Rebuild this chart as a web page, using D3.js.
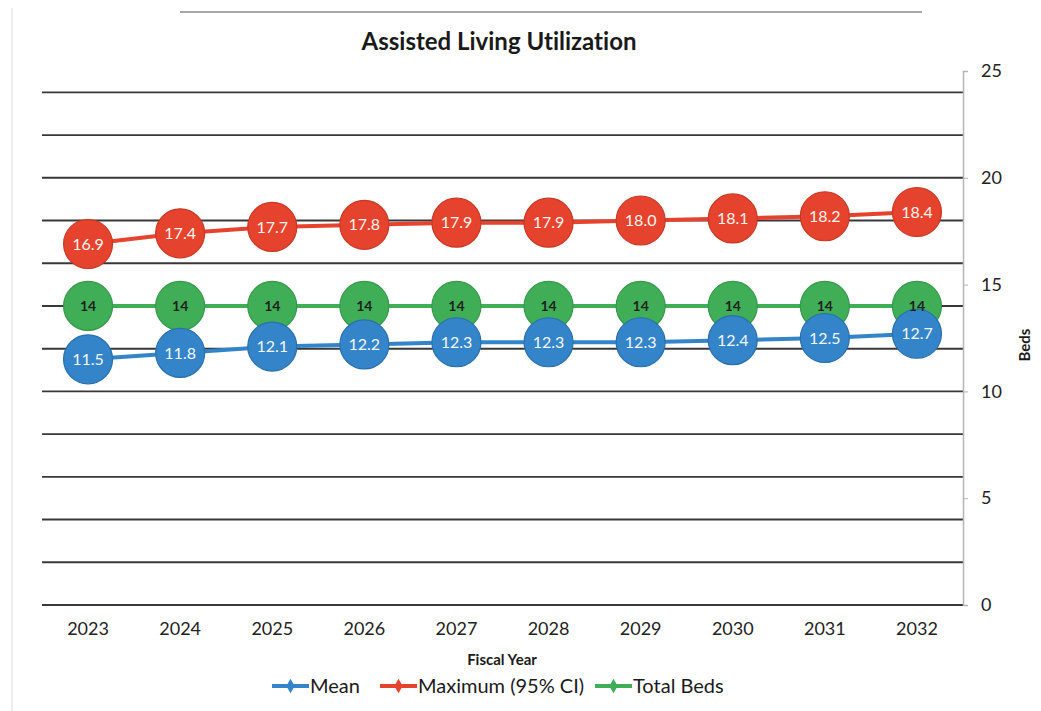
<!DOCTYPE html>
<html>
<head>
<meta charset="utf-8">
<script src="https://cdn.jsdelivr.net/npm/d3@7"></script>
<style>
  html, body { margin: 0; padding: 0; background: #fff; }
  svg { display: block; font-family: Lato, "Open Sans", sans-serif; font-variant-ligatures: none; }
</style>
</head>
<body>
<svg id="chart" width="1041" height="711"></svg>
<script>
// Fiscal years and the three bed series
const years = ["2023", "2024", "2025", "2026", "2027", "2028", "2029", "2030", "2031", "2032"];
const meanBeds = [11.5, 11.8, 12.1, 12.2, 12.3, 12.3, 12.3, 12.4, 12.5, 12.7];
const maxBeds = [16.9, 17.4, 17.7, 17.8, 17.9, 17.9, 18.0, 18.1, 18.2, 18.4];
const totalBeds = [14, 14, 14, 14, 14, 14, 14, 14, 14, 14];
const yTicks = [0, 5, 10, 15, 20, 25];
const gridValues = [0, 2, 4, 6, 8, 10, 12, 14, 16, 18, 20, 22, 24];

const series = [
  { name: "Total Beds", values: totalBeds, color: "#3fae57", edge: "#35984b", text: "#1f1f1f", fmt: d => d3.format("d")(d), bold: true },
  { name: "Mean", values: meanBeds, color: "#3384c8", edge: "#2a70ad", text: "#f4f8ff", fmt: d => d3.format(".1f")(d), bold: false },
  { name: "Maximum (95% CI)", values: maxBeds, color: "#e6432e", edge: "#c93823", text: "#fff4ee", fmt: d => d3.format(".1f")(d), bold: false }
];

const svg = d3.select("#chart");
const plotLeft = 42, plotRight = 963, plotTop = 71, plotBottom = 605;

const x = d3.scaleBand().domain(years).range([plotLeft, plotRight]).padding(0);
const y = d3.scaleLinear().domain([0, 25]).range([plotBottom, plotTop]);
const cx = d => x(d) + x.bandwidth() / 2;

// page frame
svg.append("line").attr("x1", 12).attr("x2", 12).attr("y1", 8).attr("y2", 711)
  .attr("stroke", "#e6e6e6").attr("stroke-width", 1.5);
svg.append("line").attr("x1", 180).attr("x2", 922).attr("y1", 12).attr("y2", 12)
  .attr("stroke", "#8a8a8a").attr("stroke-width", 1.5);

// title
svg.append("text").attr("x", 499).attr("y", 50).attr("text-anchor", "middle")
  .attr("font-size", 24).attr("font-weight", "bold").attr("fill", "#1a1a1a")
  .text("Assisted Living Utilization");

// horizontal gridlines
svg.append("g").selectAll("line").data(gridValues).join("line")
  .attr("x1", plotLeft).attr("x2", plotRight)
  .attr("y1", d => y(d)).attr("y2", d => y(d))
  .attr("stroke", "#383838").attr("stroke-width", 1.9);

// right value axis
const yAxis = svg.append("g").attr("transform", `translate(${plotRight},0)`)
  .call(d3.axisRight(y).tickValues(yTicks).tickSize(5).tickPadding(13));
yAxis.select(".domain").attr("stroke", "#b5b5b5").attr("stroke-width", 1.5);
yAxis.selectAll(".tick line").attr("stroke", "#b5b5b5");
yAxis.selectAll(".tick text").attr("font-size", 18).attr("fill", "#222")
  .attr("font-family", "Lato, sans-serif");

// category axis labels
const xAxis = svg.append("g").attr("transform", `translate(0,${plotBottom})`)
  .call(d3.axisBottom(x).tickSize(0).tickPadding(17));
xAxis.select(".domain").remove();
xAxis.selectAll(".tick text").attr("font-size", 18).attr("fill", "#222")
  .attr("font-family", "Lato, sans-serif");

// axis titles
svg.append("text").attr("x", 502).attr("y", 665).attr("text-anchor", "middle")
  .attr("font-size", 15).attr("font-weight", "bold").attr("fill", "#1a1a1a")
  .text("Fiscal Year");
svg.append("text").attr("transform", "translate(1030,345) rotate(-90)")
  .attr("text-anchor", "middle").attr("font-size", 15).attr("font-weight", "bold")
  .attr("fill", "#1a1a1a").text("Beds");

// series lines and markers
const line = d3.line().x((d, i) => cx(years[i])).y(d => y(d));
const plot = svg.append("g");
series.forEach(s => {
  plot.append("path").datum(s.values).attr("d", line)
    .attr("fill", "none").attr("stroke", s.color).attr("stroke-width", 4);
});
series.forEach(s => {
  plot.append("g").selectAll("circle").data(s.values).join("circle")
    .attr("cx", (d, i) => cx(years[i])).attr("cy", d => y(d)).attr("r", 24.5)
    .attr("fill", s.color).attr("stroke", s.edge).attr("stroke-width", 1.2);
});
series.forEach(s => {
  plot.append("g").selectAll("text").data(s.values).join("text")
    .attr("x", (d, i) => cx(years[i])).attr("y", d => y(d)).attr("dy", "0.35em")
    .attr("text-anchor", "middle").attr("font-size", s.bold ? 14 : 16)
    .attr("font-weight", s.bold ? "bold" : "normal").attr("fill", s.text)
    .text(s.fmt);
});

// legend
const legendItems = [
  { name: "Mean", x: 272 },
  { name: "Maximum (95% CI)", x: 380 },
  { name: "Total Beds", x: 595 }
];
const legend = svg.append("g");
legendItems.forEach(item => {
  const s = series.find(v => v.name === item.name);
  const g = legend.append("g").attr("transform", `translate(${item.x},686)`);
  g.append("line").attr("x1", 0).attr("x2", 37).attr("stroke", s.color).attr("stroke-width", 4);
  g.append("path").attr("transform", "translate(18.5,0)")
    .attr("d", d3.symbol(d3.symbolDiamond, 60)()).attr("fill", s.color);
  g.append("text").attr("x", 38).attr("dy", "0.35em").attr("font-size", 20)
    .attr("fill", "#1a1a1a").text(s.name);
});
</script>
</body>
</html>
